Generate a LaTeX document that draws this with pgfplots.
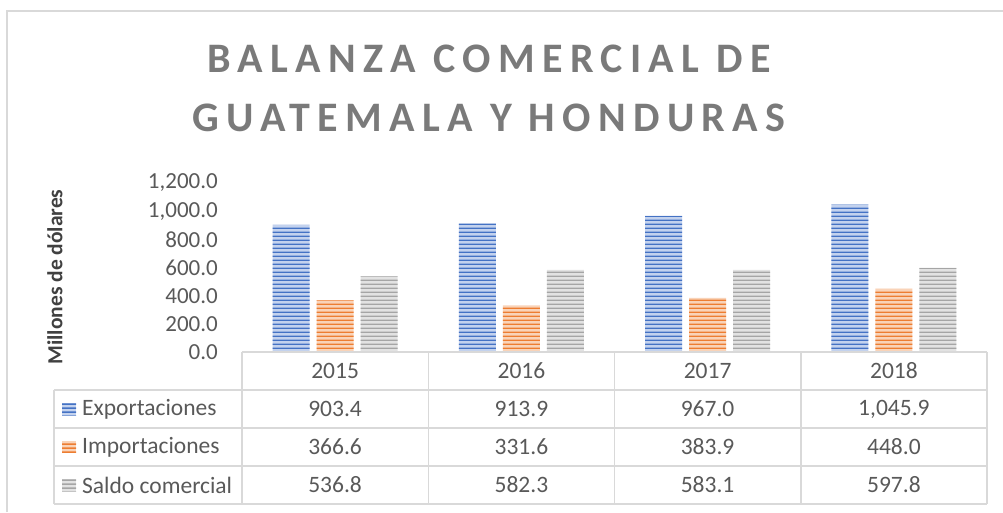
\documentclass[border=0pt]{standalone}
\usepackage{fontspec}
\setmainfont{Carlito}
\newfontfamily\titlefont[LetterSpace=17.5]{Carlito}
\usepackage{pgfplots}
\pgfplotsset{compat=1.18}
\usetikzlibrary{patterns}
\pgfdeclarepatternformonly{hstripes}{\pgfqpoint{0pt}{0pt}}{\pgfqpoint{400pt}{4pt}}{\pgfqpoint{400pt}{4pt}}{%
  \pgfpathrectangle{\pgfqpoint{0pt}{0pt}}{\pgfqpoint{400pt}{1.8pt}}\pgfusepath{fill}}
\definecolor{cblue}{HTML}{4472C4}
\definecolor{cblueL}{HTML}{C3D2EE}
\definecolor{corange}{HTML}{ED7D31}
\definecolor{corangeL}{HTML}{F9D3B8}
\definecolor{cgray}{HTML}{A5A5A5}
\definecolor{cgrayL}{HTML}{E2E2E2}
\definecolor{gridc}{HTML}{D9D9D9}
\definecolor{tcol}{HTML}{595959}
\definecolor{titlec}{HTML}{7A7A7A}
\definecolor{labc}{HTML}{404040}
\tikzset{stripes/.style={postaction={pattern=hstripes,pattern color=#1}}}
\begin{document}
\begin{tikzpicture}[x=1pt,y=1pt]
\path[use as bounding box] (0,0) rectangle (1003,512);
\draw[gridc, line width=1.2pt] (7,0) -- (7,501) -- (1003,501);
% title
\node[anchor=base, text=titlec, font=\titlefont\bfseries\fontsize{42}{48}\selectfont] at (489,439) {BALANZA COMERCIAL DE};
\node[anchor=base, text=titlec, font=\titlefont\bfseries\fontsize{42}{48}\selectfont] at (489,380) {GUATEMALA Y HONDURAS};
% y label
\node[rotate=90, text=labc, font=\bfseries\fontsize{21.5}{24}\selectfont] at (55,235) {Millones de dólares};
\begin{axis}[
  at={(242pt,160pt)}, anchor=south west,
  scale only axis, width=745pt, height=169pt,
  xmin=-0.5, xmax=3.5, ymin=0, ymax=1200,
  axis line style={draw=none}, tick style={draw=none},
  xtick=\empty,
  ytick={0,200,400,600,800,1000,1200},
  yticklabel style={font=\fontsize{23}{26}\selectfont, text=tcol, inner sep=0pt, anchor=east, xshift=-24pt},
  ybar=7pt, bar width=37pt,
  /pgf/number format/.cd, fixed, fixed zerofill, precision=1, 1000 sep={,}, assume math mode=true
]
\addplot[draw=none, fill=cblueL, stripes=cblue] coordinates {(0,903.4) (1,913.9) (2,967.0) (3,1045.9)};
\addplot[draw=none, fill=corangeL, stripes=corange] coordinates {(0,366.6) (1,331.6) (2,383.9) (3,448.0)};
\addplot[draw=none, fill=cgrayL, stripes=cgray] coordinates {(0,536.8) (1,582.3) (2,583.1) (3,597.8)};
\end{axis}
% data table
\draw[gridc, line width=1.5pt] (242,160) -- (987,160);
\foreach \yy in {122,84,46,8} {\draw[gridc, line width=1.5pt] (54,\yy) -- (987,\yy);}
\foreach \xx in {242,428.25,614.5,800.75,987} {\draw[gridc, line width=1.5pt] (\xx,160) -- (\xx,8);}
\draw[gridc, line width=1.5pt] (54,122) -- (54,8);
\begin{scope}[every node/.style={text=tcol, font=\fontsize{23.5}{27}\selectfont}]
\node at (335.1,141) {2015};
\node at (521.4,141) {2016};
\node at (707.6,141) {2017};
\node at (893.9,141) {2018};
\node[anchor=west, inner sep=0pt] at (82,103) {Exportaciones};
\node[anchor=west, inner sep=0pt] at (82,65) {Importaciones};
\node[anchor=west, inner sep=0pt] at (82,27) {Saldo comercial};
\node at (335.1,103) {903.4};
\node at (521.4,103) {913.9};
\node at (707.6,103) {967.0};
\node at (893.9,103) {1,045.9};
\node at (335.1,65) {366.6};
\node at (521.4,65) {331.6};
\node at (707.6,65) {383.9};
\node at (893.9,65) {448.0};
\node at (335.1,27) {536.8};
\node at (521.4,27) {582.3};
\node at (707.6,27) {583.1};
\node at (893.9,27) {597.8};
\end{scope}
\fill[cblueL, stripes=cblue] (62,97) rectangle (76,109);
\fill[corangeL, stripes=corange] (62,59) rectangle (76,71);
\fill[cgrayL, stripes=cgray] (62,21) rectangle (76,33);
\end{tikzpicture}
\end{document}
